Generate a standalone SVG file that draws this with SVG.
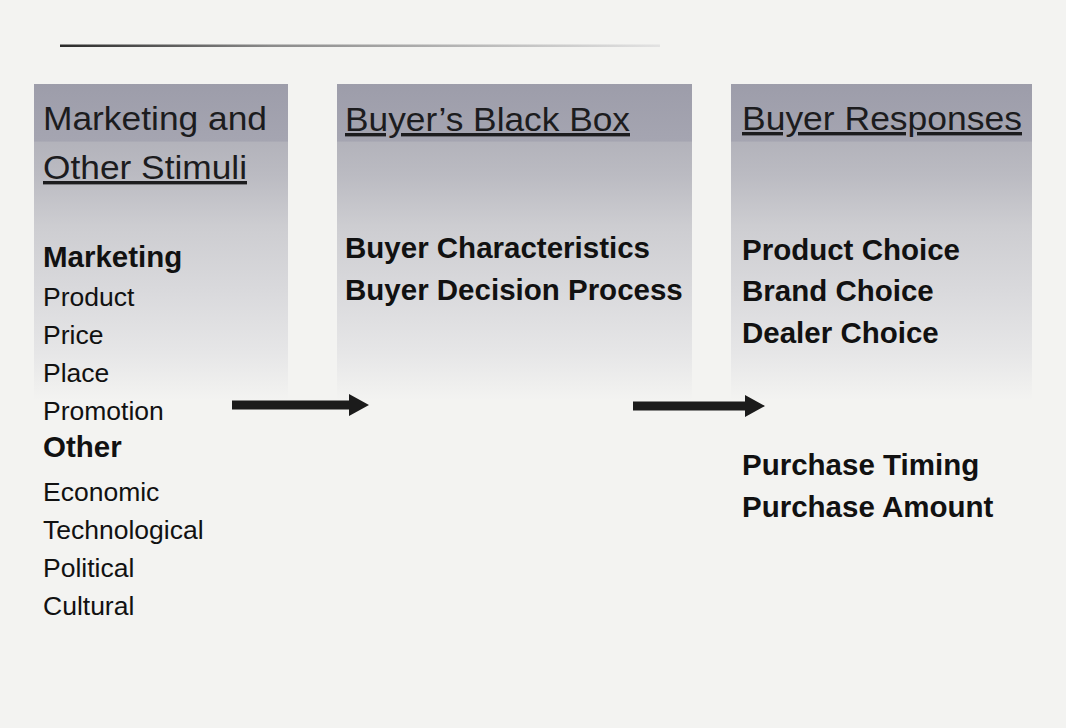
<svg xmlns="http://www.w3.org/2000/svg" width="1066" height="728" viewBox="0 0 1066 728">
  <style>
    .hdr { font-family: "Liberation Sans", Arial, sans-serif; font-size: 34px; fill: #1c1c1e; }
    .ul { text-decoration: underline; }
    .b { font-family: "Liberation Sans", Arial, sans-serif; font-size: 29.5px; font-weight: bold; fill: #111; }
    .r { font-family: "Liberation Sans", Arial, sans-serif; font-size: 26.5px; fill: #111; }
    .panel { fill: url(#panelFade); }
    .arrow { fill: #1b1b1b; }
  </style>
  <defs>
    <!-- panel shading: dark header band, mid grey band, then fade to paper -->
    <linearGradient id="panelFade" x1="0" y1="0" x2="0" y2="1">
      <stop offset="0" stop-color="#9d9daa"/>
      <stop offset="0.18" stop-color="#a5a5b1"/>
      <stop offset="0.185" stop-color="#b3b3bb"/>
      <stop offset="0.29" stop-color="#bbbbc2"/>
      <stop offset="0.45" stop-color="#cdcdd1"/>
      <stop offset="0.65" stop-color="#d9d9dc"/>
      <stop offset="0.85" stop-color="#e6e6e7"/>
      <stop offset="1" stop-color="#f3f3f1"/>
    </linearGradient>
    <linearGradient id="ruleFade" x1="0" y1="0" x2="1" y2="0">
      <stop offset="0" stop-color="#2a2a2a"/>
      <stop offset="0.35" stop-color="#8a8a8a"/>
      <stop offset="1" stop-color="#e2e2e2"/>
    </linearGradient>
  </defs>

  <rect width="1066" height="728" fill="#f3f3f1"/>
  <rect x="60" y="44.5" width="600" height="2.5" fill="url(#ruleFade)"/>

  <g id="stimuli">
    <rect class="panel" x="34" y="84" width="254" height="316"/>
    <text class="hdr" x="43" y="130" textLength="224" lengthAdjust="spacingAndGlyphs">Marketing and</text>
    <text class="hdr ul" x="43" y="179" textLength="204" lengthAdjust="spacingAndGlyphs">Other Stimuli</text>
    <text class="b" x="43" y="267">Marketing</text>
    <text class="r" x="43" y="306">Product</text>
    <text class="r" x="43" y="344">Price</text>
    <text class="r" x="43" y="382">Place</text>
    <text class="r" x="43" y="420">Promotion</text>
    <text class="b" x="43" y="457">Other</text>
    <text class="r" x="43" y="501">Economic</text>
    <text class="r" x="43" y="539">Technological</text>
    <text class="r" x="43" y="577">Political</text>
    <text class="r" x="43" y="615">Cultural</text>
  </g>

  <g id="black-box">
    <rect class="panel" x="337" y="84" width="355" height="316"/>
    <text class="hdr ul" x="345" y="131" textLength="285" lengthAdjust="spacingAndGlyphs">Buyer’s Black Box</text>
    <text class="b" x="345" y="258">Buyer Characteristics</text>
    <text class="b" x="345" y="300">Buyer Decision Process</text>
  </g>

  <g id="responses">
    <rect class="panel" x="731" y="84" width="301" height="316"/>
    <text class="hdr ul" x="742" y="130" textLength="280" lengthAdjust="spacingAndGlyphs">Buyer Responses</text>
    <text class="b" x="742" y="260">Product Choice</text>
    <text class="b" x="742" y="301">Brand Choice</text>
    <text class="b" x="742" y="343">Dealer Choice</text>
    <text class="b" x="742" y="475">Purchase Timing</text>
    <text class="b" x="742" y="517">Purchase Amount</text>
  </g>

  <g id="connectors">
    <path class="arrow" d="M232 400.5 H349 V394 L369 405 L349 416 V409.5 H232 Z"/>
    <path class="arrow" d="M633 401.5 H745 V395 L765 406 L745 417 V410.5 H633 Z"/>
  </g>
</svg>
